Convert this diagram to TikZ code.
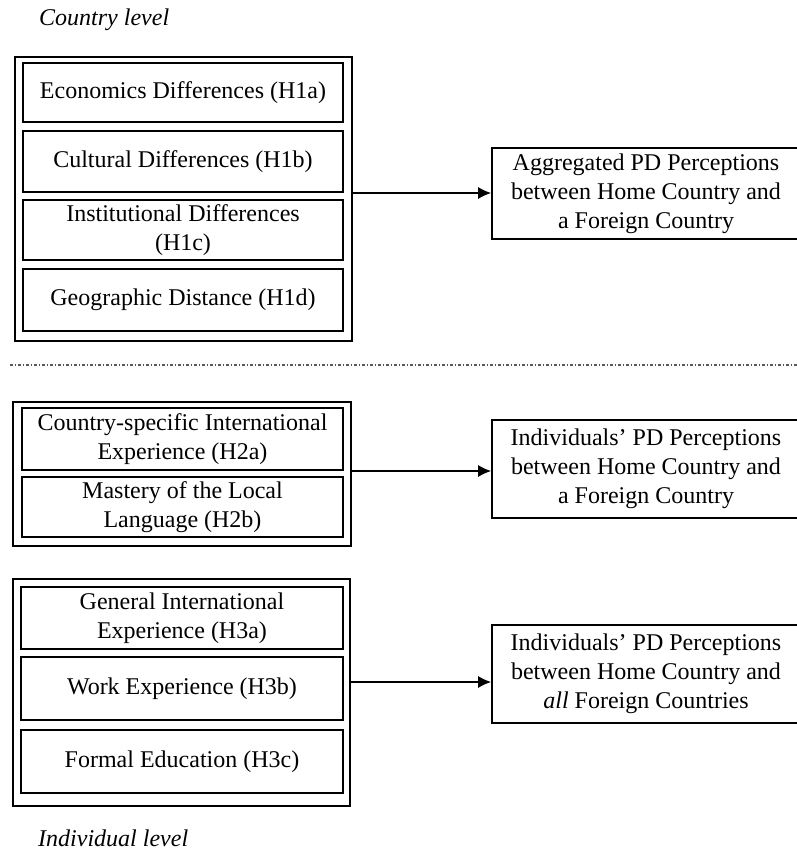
\documentclass[tikz,border=0pt]{standalone}
\usepackage{fontspec}
\setmainfont{Liberation Serif}
\usetikzlibrary{arrows.meta}
\begin{document}
\begin{tikzpicture}[x=1pt,y=-1pt,
 box/.style={draw, line width=1.7pt, inner sep=0pt, align=center, font=\fontsize{24}{29}\selectfont},
 outerbox/.style={draw, line width=1.9pt, inner sep=0pt},
 conn/.style={line width=1.4pt, -{Latex[length=13pt,width=12pt]}},
 lvl/.style={font=\fontsize{24}{29}\selectfont\itshape, inner sep=0pt, anchor=west},
 sep/.style={line width=1.2pt, gray!70!black, dash pattern=on 3pt off 2pt on 1pt off 2pt}]
\useasboundingbox (0,0) rectangle (797,852);
\clip (0,0) rectangle (797,852);

\node[lvl] (lc) at (39,20) {Country level};
\node[lvl] (li) at (38,838) {Individual level};

% group 1
\node[outerbox, minimum width=337pt, minimum height=284pt] (g1) at (183.5,199) {};
\node[box, minimum width=320pt, minimum height=59pt] (e1) at (183,92.5) {Economics Differences (H1a)};
\node[box, minimum width=320pt, minimum height=61pt] (e2) at (183,161.5) {Cultural Differences (H1b)};
\node[box, minimum width=320pt, minimum height=60pt] (e3) at (183,230) {Institutional Differences\\(H1c)};
\node[box, minimum width=320pt, minimum height=62pt] (e4) at (183,300) {Geographic Distance (H1d)};
\node[box, minimum width=308pt, minimum height=91pt] (r1) at (646,193.5) {Aggregated PD Perceptions\\between Home Country and\\a Foreign Country};
\coordinate (a1) at (0,193);
\draw[conn] (g1.east |- a1) -- (r1.west |- a1);

% separator
\coordinate (s1) at (10,365);
\coordinate (s2) at (797,365);
\draw[sep] (s1) -- (s2);

% group 2
\node[outerbox, minimum width=338pt, minimum height=144pt] (g2) at (182,474) {};
\node[box, minimum width=321pt, minimum height=62pt] (i1) at (182.5,439) {Country-specific International\\Experience (H2a)};
\node[box, minimum width=321pt, minimum height=60pt] (i2) at (182.5,507) {Mastery of the Local\\Language (H2b)};
\node[box, minimum width=308pt, minimum height=98pt] (r2) at (646,469) {Individuals’ PD Perceptions\\between Home Country and\\a Foreign Country};
\coordinate (a2) at (0,471);
\draw[conn] (g2.east |- a2) -- (r2.west |- a2);

% group 3
\node[outerbox, minimum width=337pt, minimum height=227pt] (g3) at (181.5,692.5) {};
\node[box, minimum width=322pt, minimum height=62pt] (j1) at (182,618) {General International\\Experience (H3a)};
\node[box, minimum width=322pt, minimum height=63pt] (j2) at (182,688.5) {Work Experience (H3b)};
\node[box, minimum width=322pt, minimum height=63pt] (j3) at (182,761.5) {Formal Education (H3c)};
\node[box, minimum width=308pt, minimum height=98pt] (r3) at (646,674) {Individuals’ PD Perceptions\\between Home Country and\\\textit{all} Foreign Countries};
\coordinate (a3) at (0,682);
\draw[conn] (g3.east |- a3) -- (r3.west |- a3);
\end{tikzpicture}
\end{document}
